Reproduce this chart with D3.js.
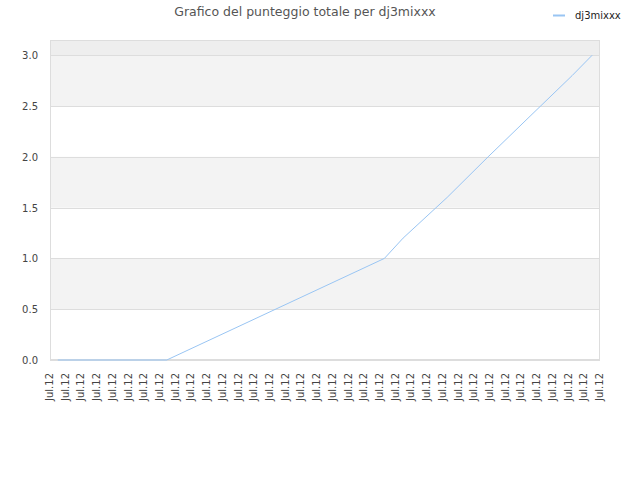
<!DOCTYPE html>
<html>
<head>
<meta charset="utf-8">
<script src="https://cdn.jsdelivr.net/npm/d3@7"></script>
<style>
  body { margin: 0; background: #fff; }
  text { font-family: "DejaVu Sans", sans-serif; }
</style>
</head>
<body>
<div id="container"></div>
<script>

// chart values
const title = "Grafico del punteggio totale per dj3mixxx";
const seriesName = "dj3mixxx";
const tickLabels = d3.range(36).map(() => "Jul.12");
// positions are in tick units along the date axis
const pointPos = [0.5, 7.43, 21.28, 22.47, 25.27, 27.88, 30.55, 33.23, 34.5];
const pointVal = [0, 0, 1.0, 1.2, 1.6, 2.0, 2.4, 2.8, 3.0];
const yTicks = [0, 0.5, 1.0, 1.5, 2.0, 2.5, 3.0];

const width = 640;
const height = 480;
const marginTop = 40;
const marginRight = 40;
const marginBottom = 120;
const marginLeft = 50;

const x = d3.scaleLinear()
    .domain([0, tickLabels.length - 1])
    .range([marginLeft, width - marginRight]);

const y = d3.scaleLinear()
    .domain([0, 3.15])
    .range([height - marginBottom, marginTop]);

const svg = d3.create("svg")
    .attr("width", width)
    .attr("height", height);

// plot background: top strip, then alternating bands
svg.append("rect")
    .attr("x", marginLeft).attr("y", marginTop)
    .attr("width", width - marginLeft - marginRight)
    .attr("height", y(3.0) - marginTop)
    .attr("fill", "#eeeeee");

const bands = [[0.5, 1.0], [1.5, 2.0], [2.5, 3.0]];
svg.append("g").selectAll("rect")
    .data(bands)
    .join("rect")
    .attr("x", marginLeft)
    .attr("y", d => y(d[1]))
    .attr("width", width - marginLeft - marginRight)
    .attr("height", d => y(d[0]) - y(d[1]))
    .attr("fill", "#f3f3f3");

// grid lines
svg.append("g").selectAll("line")
    .data(yTicks)
    .join("line")
    .attr("x1", marginLeft)
    .attr("x2", width - marginRight)
    .attr("y1", d => Math.round(y(d)) + 0.5)
    .attr("y2", d => Math.round(y(d)) + 0.5)
    .attr("stroke", "#dddddd");

// plot frame
svg.append("rect")
    .attr("x", marginLeft + 0.5).attr("y", marginTop + 0.5)
    .attr("width", width - marginLeft - marginRight - 1)
    .attr("height", height - marginBottom - marginTop - 1)
    .attr("fill", "none")
    .attr("stroke", "#dddddd");

// y-axis labels
svg.append("g").selectAll("text")
    .data(yTicks)
    .join("text")
    .attr("x", marginLeft - 12)
    .attr("y", d => y(d) + 4)
    .attr("text-anchor", "end")
    .attr("font-size", 10)
    .attr("fill", "#444")
    .text(d => d.toFixed(1));

// x-axis labels, rotated
svg.append("g").selectAll("text")
    .data(tickLabels)
    .join("text")
    .attr("transform", (d, i) => `translate(${x(i) + 3},${height - marginBottom + 13}) rotate(-90)`)
    .attr("text-anchor", "end")
    .attr("font-size", 10)
    .attr("fill", "#444")
    .text(d => d);

// the line
const line = d3.line()
    .x(d => x(d[0]))
    .y(d => y(d[1]));

svg.append("path")
    .attr("fill", "none")
    .attr("stroke", "#99c5f3")
    .attr("stroke-width", 1)
    .attr("d", line(d3.zip(pointPos, pointVal)));

// title
svg.append("text")
    .attr("x", 305)
    .attr("y", 16)
    .attr("text-anchor", "middle")
    .attr("font-size", 12.5)
    .attr("fill", "#555")
    .text(title);

// legend
svg.append("line")
    .attr("x1", 553).attr("x2", 565)
    .attr("y1", 15.5).attr("y2", 15.5)
    .attr("stroke", "#99c5f3")
    .attr("stroke-width", 2);

svg.append("text")
    .attr("x", 575)
    .attr("y", 19)
    .attr("font-size", 10)
    .attr("fill", "#222")
    .text(seriesName);

container.append(svg.node());
</script>
</body>
</html>
